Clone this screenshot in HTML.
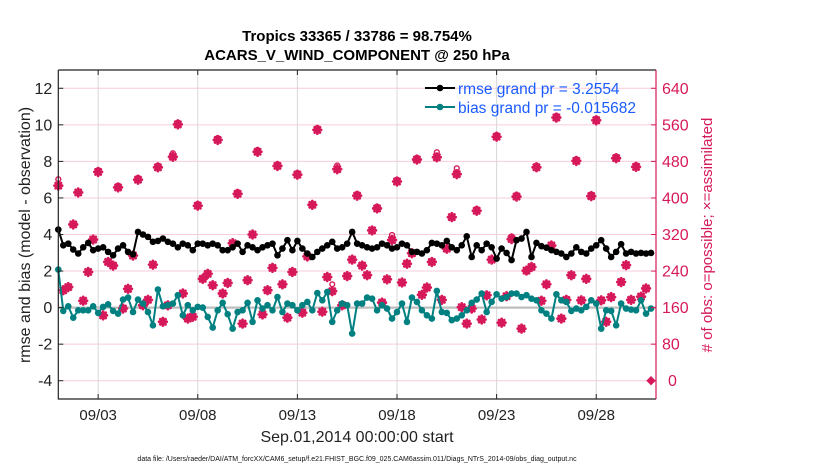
<!DOCTYPE html>
<html><head><meta charset="utf-8">
<style>
body{margin:0;background:#fff;}
svg{display:block;font-family:"Liberation Sans",Arial,sans-serif;}
</style></head>
<body>
<svg id="chart" width="830" height="470" viewBox="0 0 830 470" xmlns="http://www.w3.org/2000/svg">
<rect x="0" y="0" width="830" height="470" fill="#fff"/>
<text x="357" y="41" text-anchor="middle" font-size="15" font-weight="bold">Tropics 33365 / 33786 = 98.754%</text>
<text x="357" y="60" text-anchor="middle" font-size="15" font-weight="bold">ACARS_V_WIND_COMPONENT @ 250 hPa</text>
<g id="grid"></g>
<g id="marks"></g>
<g id="axes"></g>
<text transform="translate(30,235) rotate(-90)" text-anchor="middle" font-size="16" fill="#222">rmse and bias (model - observation)</text>
<text transform="translate(712,235) rotate(-90)" text-anchor="middle" font-size="15" fill="#d6195a"># of obs: o=possible; ×=assimilated</text>
<text x="357" y="442" text-anchor="middle" font-size="16" fill="#222">Sep.01,2014 00:00:00 start</text>
<text x="357" y="461" text-anchor="middle" font-size="7" fill="#111">data file: /Users/raeder/DAI/ATM_forcXX/CAM6_setup/f.e21.FHIST_BGC.f09_025.CAM6assim.011/Diags_NTrS_2014-09/obs_diag_output.nc</text>
<g>
<line x1="425" y1="88" x2="455" y2="88" stroke="#000" stroke-width="2"/>
<circle cx="440" cy="88" r="3.3" fill="#000"/>
<text x="458" y="94" font-size="15.5" fill="#1a5cff">rmse grand pr = 3.2554</text>
<line x1="425" y1="107" x2="455" y2="107" stroke="#008080" stroke-width="2"/>
<circle cx="440" cy="107" r="3.3" fill="#008080"/>
<text x="458" y="113" font-size="15.5" fill="#1a5cff">bias grand pr = -0.015682</text>
</g>
</svg>
<script>
const rmse=[4.27,3.41,3.5,3.18,2.96,3.3,3.54,3.14,3.23,3.3,3.05,2.86,3.23,3.41,3.05,2.92,4.14,4.0,3.87,3.6,3.65,3.78,3.6,3.5,3.3,3.5,3.41,3.14,3.5,3.5,
3.41,3.5,3.41,3.14,3.14,3.3,3.5,3.05,3.41,3.3,3.14,3.3,3.41,3.5,2.86,3.23,3.69,3.14,3.65,3.23,2.96,2.77,3.05,3.23,3.41,3.6,3.23,3.3,3.5,4.14,
3.5,3.41,3.3,3.23,3.3,3.5,3.41,3.23,3.3,3.5,3.41,3.05,3.05,2.96,3.14,3.54,3.5,3.41,3.65,3.3,3.14,3.41,3.9,2.77,3.41,3.14,3.5,3.3,2.68,3.23,
2.99,2.6,3.69,3.78,4.14,2.77,3.54,3.36,3.28,3.14,3.05,2.96,2.77,2.96,3.3,3.05,2.96,3.23,3.41,3.69,3.23,2.77,3.05,3.47,2.96,3.05,2.96,2.99,2.96,2.99];
const bias=[2.08,-0.18,0.07,-0.55,-0.15,-0.15,-0.15,0.07,-0.29,0.04,0.18,-0.18,-0.33,0.44,0.55,-0.24,0.44,0.22,-0.24,-0.97,0.99,0.07,0.13,0.22,0.68,-0.42,0.13,-0.15,0.04,0.0,
-0.51,-1.09,-0.15,0.26,-0.36,-1.15,-0.24,-0.15,0.26,-0.78,0.4,-0.05,0.13,-0.15,0.58,-0.24,0.22,0.13,-0.15,0.13,0.31,-0.15,0.8,0.4,0.86,-0.78,-0.15,0.22,0.13,-1.42,
0.22,0.22,0.55,0.49,-0.15,0.13,-0.05,-0.6,-0.24,0.22,-0.78,0.55,0.31,-0.15,-0.42,-0.6,0.91,-0.24,-0.29,-0.69,-0.6,-0.42,-0.15,0.26,0.44,0.77,-0.24,0.31,0.73,0.49,
0.58,0.77,0.77,0.58,0.68,0.49,0.4,-0.15,-0.33,-0.6,0.73,0.4,0.31,-0.18,-0.05,-0.15,0.04,0.4,0.22,-1.15,-0.15,-0.18,-0.97,0.22,-0.05,-0.11,-0.15,0.4,-0.33,-0.05];
const assimilated=[427,198,205,342,412,175,238,309,457,143,260,252,423,158,201,274,440,165,177,254,467,129,165,490,561,191,136,140,383,223,234,209,527,191,214,301,409,125,220,320,
501,145,198,247,470,211,138,238,451,149,272,385,549,151,227,196,463,165,229,265,405,252,231,329,377,171,222,308,436,215,256,279,484,188,204,260,
489,177,289,358,452,161,125,158,372,134,187,265,534,127,185,310,403,114,241,249,467,175,211,296,576,136,177,231,481,176,223,404,570,176,129,183,487,216,
253,177,468,184,202,0];
const possible=[441,198,205,342,412,175,238,309,461,143,260,252,427,158,201,274,444,165,177,254,471,129,165,498,565,191,136,140,387,223,234,209,531,191,214,301,413,125,220,320,
505,145,198,247,474,211,138,238,455,149,272,385,553,151,227,211,471,165,229,265,409,252,231,329,381,171,222,319,440,215,256,279,488,188,204,260,
500,177,289,358,465,161,125,158,376,134,187,265,538,127,185,316,407,114,241,249,471,175,211,296,580,136,177,231,485,176,223,408,574,176,129,183,491,216,
253,177,472,184,202,0];
const leftTicks=[-4,-2,0,2,4,6,8,10,12];
const rightTicks=[0,80,160,240,320,400,480,560,640];
const dayTicks=[2,7,12,17,22,27];
const dayLabels=["09/03","09/08","09/13","09/18","09/23","09/28"];

const NS="http://www.w3.org/2000/svg";
const L=58.3,R=656,T=70,B=399;
const yMin=-5,yMax=13,dMax=30,stepsPerDay=4;
function X(day){return L+(R-L)*day/dMax;}
function Y(v){return B-(B-T)*(v-yMin)/(yMax-yMin);}
function YC(c){return Y((c-160)/40);}
function mk(tag,attrs,parent){const e=document.createElementNS(NS,tag);for(const k in attrs)e.setAttribute(k,attrs[k]);parent.appendChild(e);return e;}
const grid=document.getElementById('grid'),marks=document.getElementById('marks'),axes=document.getElementById('axes');

leftTicks.forEach(v=>{
  const g=mk('line',{x1:L,x2:R,y1:Y(v),y2:Y(v),stroke:'#f7cbdc','stroke-width':1},grid);
  
  
});
dayTicks.forEach(d=>{
  const g=mk('line',{x1:X(d),x2:X(d),y1:T,y2:B,stroke:'#d8d8d8','stroke-width':1},grid);
  
  
});
const zl=mk('line',{x1:L,x2:R,y1:Y(0),y2:Y(0),stroke:'#bdbdbd','stroke-width':2.2},grid);



function xi(i){return X(i/stepsPerDay);}
assimilated.forEach((c,i)=>{
  const x=xi(i),y=YC(c);
  const g=mk('g',{stroke:'#d6195a','stroke-width':2.8,'stroke-linecap':'round'},marks);
  
  
  if(c===0){
    mk('path',{d:`M${x-4} ${y}L${x} ${y-4}L${x+4} ${y}L${x} ${y+4}Z`,fill:'#d6195a','stroke-width':1},g);
    return;
  }
  mk('line',{x1:x-3.8,x2:x+3.8,y1:y,y2:y},g);
  mk('line',{x1:x,x2:x,y1:y-3.8,y2:y+3.8},g);
  mk('line',{x1:x-2.6,x2:x+2.6,y1:y-2.6,y2:y+2.6},g);
  mk('line',{x1:x-2.6,x2:x+2.6,y1:y+2.6,y2:y-2.6},g);
});
possible.forEach((c,i)=>{
  if(c===0)return;
  const pc=mk('circle',{cx:xi(i),cy:YC(c),r:2.4,fill:'none',stroke:'#d6195a','stroke-width':1.4},marks);
  
  
});
function series(arr,color,name){
  const pts=arr.map((v,i)=>xi(i).toFixed(1)+','+Y(v).toFixed(1)).join(' ');
  const pl=mk('polyline',{points:pts,fill:'none',stroke:color,'stroke-width':2,'stroke-linejoin':'round'},marks);
  
  
  arr.forEach((v,i)=>{
    const c=mk('circle',{cx:xi(i),cy:Y(v),r:3.3,fill:color},marks);
    
    
  });
}
series(bias,'#008080','bias');
series(rmse,'#000000','rmse');

const fr=mk('path',{d:`M${L} ${T}L${R} ${T}M${L} ${T}L${L} ${B}L${R} ${B}`,fill:'none',stroke:'#222','stroke-width':1.2},axes);


const ra=mk('line',{x1:R,x2:R,y1:T,y2:B,stroke:'#d6195a','stroke-width':1.2},axes);


leftTicks.forEach(v=>{
  mk('line',{x1:L,x2:L+5,y1:Y(v),y2:Y(v),stroke:'#222'},axes);
  const t=mk('text',{x:L-6,y:Y(v)+5.5,'text-anchor':'end','font-size':16,fill:'#222'},axes);
  t.textContent=v;
  
  
});
rightTicks.forEach(c=>{
  mk('line',{x1:R-5,x2:R,y1:YC(c),y2:YC(c),stroke:'#d6195a'},axes);
  const t=mk('text',{x:c===0?668:662,y:YC(c)+5.5,'font-size':16,fill:'#d6195a'},axes);
  t.textContent=c;
  
  
});
dayTicks.forEach((d,k)=>{
  mk('line',{x1:X(d),x2:X(d),y1:B,y2:B-5,stroke:'#222'},axes);
  mk('line',{x1:X(d),x2:X(d),y1:T,y2:T+5,stroke:'#222'},axes);
  const t=mk('text',{x:X(d),y:420,'text-anchor':'middle','font-size':15,fill:'#222'},axes);
  t.textContent=dayLabels[k];
  
  
});
</script>
</body></html>
